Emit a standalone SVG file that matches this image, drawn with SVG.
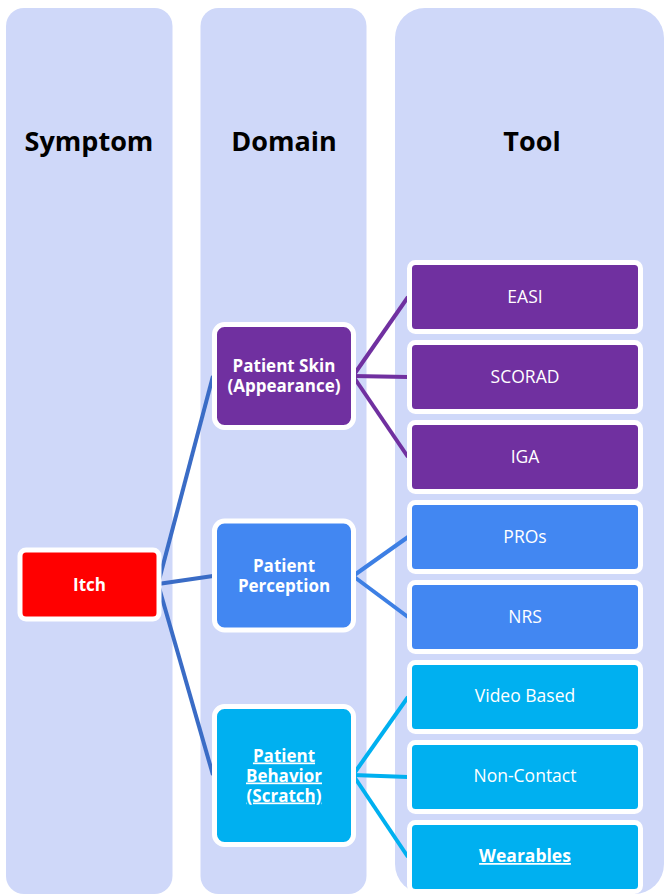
<svg xmlns="http://www.w3.org/2000/svg" width="666" height="894" viewBox="0 0 666 894">
<style>
.col{fill:#cfd8f9}
.hd{font-family:"Open Sans","Liberation Sans",sans-serif;font-weight:bold;font-size:27px;fill:#000;text-anchor:middle}
.box{stroke:#fff;stroke-width:5}
.dt{font-family:"Open Sans","Liberation Sans",sans-serif;font-weight:bold;font-size:17px;fill:#fff;text-anchor:middle}
.tt{font-family:"Open Sans","Liberation Sans",sans-serif;font-size:17.5px;fill:#fff;text-anchor:middle}
.u{text-decoration:underline}
.ln{fill:none;stroke-width:4}
</style>
<g id="columns">
<rect class="col" x="6" y="8" width="166.5" height="886" rx="18"/>
<rect class="col" x="200.5" y="8" width="166" height="886" rx="18"/>
<rect class="col" x="395" y="8" width="269" height="886" rx="30"/>
<text class="hd" x="89" y="151">Symptom</text>
<text class="hd" x="284" y="151">Domain</text>
<text class="hd" x="532" y="151">Tool</text>
</g>
<g id="connectors">
<line class="ln" stroke="#3a6cc6" x1="158" y1="584" x2="213" y2="376"/>
<line class="ln" stroke="#3a6cc6" x1="158" y1="584" x2="213" y2="576"/>
<line class="ln" stroke="#3a6cc6" x1="158" y1="584" x2="213" y2="775"/>
<line class="ln" stroke="#7030a0" x1="353" y1="376" x2="408" y2="297"/>
<line class="ln" stroke="#7030a0" x1="353" y1="376" x2="408" y2="377"/>
<line class="ln" stroke="#7030a0" x1="353" y1="376" x2="408" y2="457"/>
<line class="ln" stroke="#3d7fe4" x1="353" y1="576" x2="408" y2="537"/>
<line class="ln" stroke="#3d7fe4" x1="353" y1="576" x2="408" y2="617"/>
<line class="ln" stroke="#00b0f0" x1="353" y1="775" x2="408" y2="697"/>
<line class="ln" stroke="#00b0f0" x1="353" y1="775" x2="408" y2="777"/>
<line class="ln" stroke="#00b0f0" x1="353" y1="775" x2="408" y2="857"/>
</g>
<g id="itch">
<rect class="box" x="20" y="550" width="139" height="69" rx="6" fill="#ff0000"/>
<text class="dt" x="89.5" y="590.5">Itch</text>
</g>
<g id="skin">
<rect class="box" x="214.5" y="324.5" width="139" height="103" rx="10" fill="#7030a0"/>
<text class="dt" x="284" y="372">Patient Skin</text>
<text class="dt" x="284" y="392">(Appearance)</text>
</g>
<g id="perception">
<rect class="box" x="214.5" y="521" width="139" height="109" rx="10" fill="#4287f2"/>
<text class="dt" x="284" y="572">Patient</text>
<text class="dt" x="284" y="592">Perception</text>
</g>
<g id="behavior">
<rect class="box" x="214.5" y="706.5" width="139" height="138" rx="10" fill="#00b0f0"/>
<text class="dt u" x="284" y="761.5">Patient</text>
<text class="dt u" x="284" y="781.5">Behavior</text>
<text class="dt u" x="284" y="801.5">(Scratch)</text>
</g>
<g id="easi">
<rect class="box" x="409.5" y="262.5" width="231" height="69" rx="6" fill="#7030a0"/>
<text class="tt" x="525" y="303">EASI</text>
</g>
<g id="scorad">
<rect class="box" x="409.5" y="342.5" width="231" height="69" rx="6" fill="#7030a0"/>
<text class="tt" x="525" y="383">SCORAD</text>
</g>
<g id="iga">
<rect class="box" x="409.5" y="422.5" width="231" height="69" rx="6" fill="#7030a0"/>
<text class="tt" x="525" y="463">IGA</text>
</g>
<g id="pros">
<rect class="box" x="409.5" y="502.5" width="231" height="69" rx="6" fill="#4287f2"/>
<text class="tt" x="525" y="543">PROs</text>
</g>
<g id="nrs">
<rect class="box" x="409.5" y="582.5" width="231" height="69" rx="6" fill="#4287f2"/>
<text class="tt" x="525" y="623">NRS</text>
</g>
<g id="video">
<rect class="box" x="409.5" y="662.5" width="231" height="69" rx="6" fill="#00b0f0"/>
<text class="tt" x="525" y="702">Video Based</text>
</g>
<g id="noncontact">
<rect class="box" x="409.5" y="742.5" width="231" height="69" rx="6" fill="#00b0f0"/>
<text class="tt" x="525" y="782">Non-Contact</text>
</g>
<g id="wearables">
<rect class="box" x="409.5" y="822.5" width="231" height="69" rx="6" fill="#00b0f0"/>
<text class="dt u" x="525" y="862" style="font-size:17.5px">Wearables</text>
</g>
</svg>
